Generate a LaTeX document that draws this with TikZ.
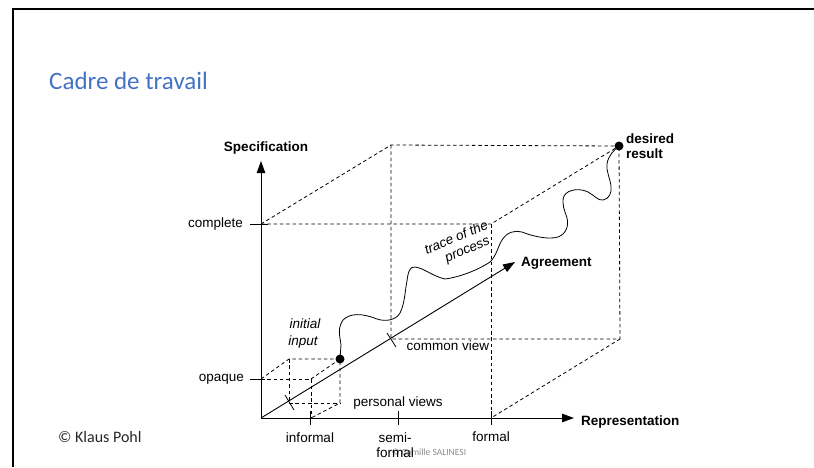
\documentclass[tikz,border=0pt]{standalone}
\usepackage{fontspec}
\setmainfont{Liberation Sans}
\newfontfamily\calib{Carlito}
\usetikzlibrary{arrows.meta}
\definecolor{titleblue}{RGB}{68,114,196}
\tikzset{
  dsh/.style={line width=0.8pt, dash pattern=on 3.5pt off 2.8pt},
  axis/.style={line width=1pt, -{Triangle[length=12pt,width=8.5pt]}},
  tk/.style={line width=0.8pt},
  lbl/.style={font=\fontsize{13.5}{15}\selectfont, inner sep=0pt},
  blbl/.style={font=\fontsize{13.5}{15}\selectfont\bfseries, inner sep=0pt},
  ilbl/.style={font=\fontsize{13.5}{15}\selectfont\itshape, inner sep=0pt},
  dotn/.style={circle, fill=black, inner sep=0pt, minimum size=9pt},
}
\begin{document}
\begin{tikzpicture}[x=1pt,y=-1pt]
\useasboundingbox (0,0) rectangle (814,467);
% slide frame
\draw[line width=2pt] (13,467) -- (13,9) -- (814,9);
\node[font=\calib\fontsize{25}{29}\selectfont, text=titleblue, anchor=base west, inner sep=0pt] (title) at (49,89) {Cadre de travail};
\node[font=\calib\fontsize{16}{18}\selectfont, anchor=west, inner sep=0pt, text=black!85] (pohl) at (58,437) {© Klaus Pohl};
\node[font=\calib\fontsize{9.5}{11}\selectfont, text=black!45, inner sep=0pt] (sal) at (429,452) {© Camille SALINESI};

% coordinates
\coordinate (O) at (261,418);
\coordinate (ytip) at (261,161);
\coordinate (xtip) at (574,418);
\coordinate (ztip) at (515,262);
% small box
\coordinate (sa) at (261,379);
\coordinate (sb) at (311,379);
\coordinate (sc) at (311,418);
\coordinate (sd) at (289,359);
\coordinate (se) at (340,359);
\coordinate (sf) at (340,403);
\coordinate (sg) at (289,403);
% big box
\coordinate (b1) at (261,224);
\coordinate (b2) at (391,145);
\coordinate (b3) at (619,146);
\coordinate (b4) at (491,224);
\coordinate (b5) at (491,418);
\coordinate (b6) at (391,339);
\coordinate (b7) at (620,339);

% dashed small box
\draw[dsh] (sa) -- (sb) -- (sc);
\draw[dsh] (sa) -- (sd) -- (se);
\draw[dsh] (sb) -- (se) -- (sf) -- (sc);
\draw[dsh] (sd) -- (sg) -- (sf);
% dashed big box
\draw[dsh] (b1) -- (b2) -- (b3);
\draw[dsh] (b1) -- (b4) -- (b3);
\draw[dsh] (b4) -- (b5);
\draw[dsh] (b2) -- (b6) -- (b7) -- (b3);
\draw[dsh] (b7) -- (b5);

% axes
\draw[axis] (O) -- (ytip);
\draw[axis] (O) -- (xtip);
\draw[axis, line width=0.9pt] (O) -- (ztip);

% ticks
\draw[tk] (250,379) -- (sa);
\draw[tk] (250,224) -- (268,224);
\draw[tk] (310,411) -- (310,425);
\draw[tk] (398,411) -- (398,425);
\draw[tk] (491,411) -- (491,425);
\draw[tk] (285,395) -- (294,410);
\draw[tk] (387,333) -- (396,347);

% trace of the process
\draw[line width=0.8pt] (se) -- (341,345) .. controls (340,336) and (337,329) .. (343,320)
  .. controls (350,313) and (362,313) .. (377,319)
  .. controls (386,322) and (396,320) .. (400,313)
  .. controls (405,303) and (405,290) .. (407,281)
  .. controls (408,272) and (410,266) .. (415,267)
  .. controls (424,268) and (432,276) .. (445,279)
  .. controls (460,277) and (478,270) .. (490,262)
  .. controls (497,255) and (498,246) .. (502,240)
  .. controls (507,232) and (515,230) .. (522,232)
  .. controls (532,236) and (548,240) .. (558,237)
  .. controls (566,234) and (569,226) .. (567,218)
  .. controls (565,211) and (561,204) .. (564,196)
  .. controls (568,189) and (580,188) .. (588,192)
  .. controls (594,195) and (598,201) .. (603,200)
  .. controls (609,199) and (612,193) .. (611,186)
  .. controls (610,178) and (606,171) .. (607,164)
  .. controls (608,156) and (614,150) .. (b3);

\node[dotn] (initdot) at (se) {};
\node[dotn] (resdot) at (b3) {};

% labels
\node[blbl] (spec) at (266,148) {Specification};
\node[lbl, anchor=east] (compl) at (243,224) {complete};
\node[lbl, anchor=east] (opaq) at (244,379) {opaque};
\node[ilbl] (init1) at (305,324) {initial};
\node[ilbl] (init2) at (303,342) {input};
\node[lbl] (inf) at (310,438) {informal};
\node[lbl, align=center, font=\fontsize{13.5}{15}\selectfont] (semi) at (395,445) {semi-\\formal};
\node[lbl] (form) at (491,437) {formal};
\node[lbl] (pers) at (398,403) {personal views};
\node[lbl] (comm) at (448,346) {common view};
\node[blbl, anchor=west] (repr) at (581,422) {Representation};
\node[blbl, anchor=west] (agr) at (521,263) {Agreement};
\node[blbl, anchor=west, align=left] (des) at (626,146) {desired\\result};
\node[ilbl, rotate=23] (tr1) at (456,237) {trace of the};
\node[ilbl, rotate=23] (tr2) at (468,251) {process};
\end{tikzpicture}
\end{document}
